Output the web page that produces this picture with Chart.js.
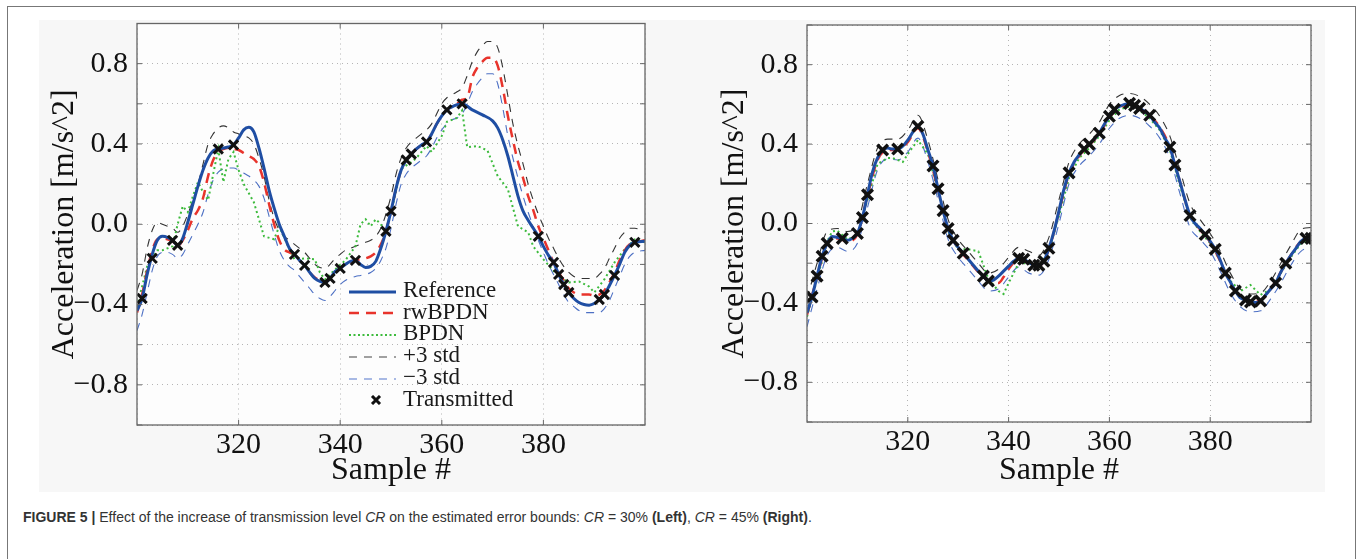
<!DOCTYPE html>
<html>
<head>
<meta charset="utf-8">
<script src="https://cdn.jsdelivr.net/npm/chart.js@4.4.0/dist/chart.umd.min.js"></script>
<style>
  body { margin: 0; width: 1360px; height: 559px; overflow: hidden; background: #fff; position: relative; }
  #frame { position: absolute; left: 7px; top: 6px; width: 1347px; height: 620px; border: 1.5px solid #777; }
  #backdrop { position: absolute; left: 39px; top: 20px; width: 1286px; height: 472px; background: #f7f7f7; }
  canvas { position: absolute; top: 14px; }
  #leftChart { left: 39px; }
  #rightChart { left: 709px; }
  #legend { position: absolute; left: 349px; top: 279px; font-family: "Liberation Serif", serif; font-size: 23px; line-height: 21.7px; color: #1a1a1a; }
  #legend div { white-space: nowrap; }
  #legend svg { vertical-align: middle; margin-right: 7px; }
  #caption { position: absolute; left: 23px; top: 509px; font-family: "Liberation Sans", Arial, sans-serif; font-size: 14px; color: #333; white-space: nowrap; }
</style>
</head>
<body>
<div id="frame"></div>
<div id="backdrop"></div>
<canvas id="leftChart" width="620" height="478"></canvas>
<canvas id="rightChart" width="616" height="478"></canvas>

<div id="legend">
  <div><svg width="47" height="10"><line x1="0" y1="5" x2="47" y2="5" stroke="#1f4ea3" stroke-width="3"/></svg>Reference</div>
  <div><svg width="47" height="10"><line x1="0" y1="5" x2="47" y2="5" stroke="#e8342c" stroke-width="2.5" stroke-dasharray="10 7"/></svg>rwBPDN</div>
  <div><svg width="47" height="10"><line x1="0" y1="5" x2="47" y2="5" stroke="#3dbb3d" stroke-width="2" stroke-dasharray="2 2.5"/></svg>BPDN</div>
  <div><svg width="47" height="10"><line x1="0" y1="5" x2="47" y2="5" stroke="#444" stroke-width="1.2" stroke-dasharray="8 7"/></svg>+3 std</div>
  <div><svg width="47" height="10"><line x1="0" y1="5" x2="47" y2="5" stroke="#5577cc" stroke-width="1.2" stroke-dasharray="8 7"/></svg>−3 std</div>
  <div><svg width="47" height="10"><path d="M23 1 L31 9 M31 1 L23 9" stroke="#111" stroke-width="3"/></svg>Transmitted</div>
</div>

<div id="caption"><b>FIGURE 5 |</b> Effect of the increase of transmission level <i>CR</i> on the estimated error bounds: <i>CR</i> = 30% <b>(Left)</b>, <i>CR</i> = 45% <b>(Right)</b>.</div>

<script>
// axis ticks
const xTickValues = [320, 340, 360, 380];
const yTickValues = [-0.8, -0.4, 0.0, 0.4, 0.8];
const yTickLabels = ['−0.8', '−0.4', '0.0', '0.4', '0.8'];

// ---- left panel (CR = 30%) ----
const leftTransX = [301, 303, 307, 308, 316, 319, 331, 333, 337, 338, 340, 343, 349, 350, 353, 354, 357, 361, 364, 379, 382, 383, 384, 385, 391, 392, 394, 398];
const leftTransY = [-0.37, -0.17, -0.08, -0.105, 0.375, 0.395, -0.15, -0.205, -0.29, -0.27, -0.22, -0.18, -0.035, 0.065, 0.32, 0.35, 0.41, 0.57, 0.60, -0.06, -0.19, -0.25, -0.30, -0.34, -0.375, -0.35, -0.255, -0.09];

const leftReference = [[300,-0.43],[301,-0.37],[302,-0.25],[303,-0.15],[304,-0.08],[305,-0.06],[306,-0.065],[307,-0.08],[308,-0.105],[309,-0.07],[310,0.01],[311,0.1],[312,0.19],[313,0.27],[314,0.33],[315,0.365],[316,0.375],[317,0.38],[318,0.385],[319,0.395],[320,0.43],[321,0.47],[322,0.483],[323,0.46],[324,0.38],[325,0.28],[326,0.17],[327,0.08],[328,0.0],[329,-0.06],[330,-0.12],[331,-0.15],[332,-0.18],[333,-0.205],[334,-0.24],[335,-0.27],[336,-0.285],[337,-0.29],[338,-0.27],[339,-0.235],[340,-0.22],[341,-0.2],[342,-0.185],[343,-0.18],[344,-0.2],[345,-0.215],[346,-0.21],[347,-0.185],[348,-0.12],[349,-0.035],[350,0.065],[351,0.18],[352,0.27],[353,0.32],[354,0.35],[355,0.375],[356,0.395],[357,0.41],[358,0.45],[359,0.5],[360,0.54],[361,0.57],[362,0.585],[363,0.595],[364,0.6],[366,0.57],[368,0.545],[370,0.515],[371,0.48],[372,0.42],[373,0.34],[374,0.24],[375,0.14],[376,0.065],[377,0.02],[378,-0.02],[379,-0.06],[380,-0.11],[381,-0.155],[382,-0.19],[383,-0.25],[384,-0.3],[385,-0.34],[386,-0.37],[387,-0.39],[388,-0.4],[389,-0.403],[390,-0.395],[391,-0.375],[392,-0.35],[393,-0.305],[394,-0.255],[395,-0.2],[396,-0.14],[397,-0.105],[398,-0.09],[400,-0.085]];

const leftRwBPDN = [[300,-0.44],[301,-0.35],[302,-0.23],[303,-0.13],[304,-0.075],[305,-0.07],[306,-0.075],[307,-0.085],[308,-0.11],[309,-0.08],[310,-0.03],[311,0.03],[312,0.07],[313,0.13],[314,0.24],[315,0.32],[316,0.36],[317,0.375],[318,0.38],[319,0.375],[320,0.37],[321,0.355],[322,0.34],[323,0.325],[324,0.29],[325,0.21],[326,0.1],[327,0.0],[328,-0.08],[329,-0.125],[330,-0.14],[331,-0.15],[332,-0.18],[333,-0.205],[334,-0.24],[335,-0.265],[336,-0.28],[337,-0.29],[338,-0.27],[339,-0.24],[340,-0.22],[341,-0.2],[342,-0.19],[343,-0.18],[344,-0.175],[345,-0.17],[346,-0.16],[347,-0.14],[348,-0.1],[349,-0.035],[350,0.065],[351,0.18],[352,0.27],[353,0.32],[354,0.35],[355,0.375],[356,0.395],[357,0.41],[358,0.45],[359,0.5],[360,0.54],[361,0.57],[362,0.585],[363,0.6],[364,0.62],[365,0.63],[366,0.73],[367,0.78],[368,0.81],[369,0.83],[370,0.83],[371,0.79],[372,0.68],[373,0.54],[374,0.42],[375,0.31],[376,0.23],[377,0.14],[378,0.07],[379,-0.01],[380,-0.07],[381,-0.13],[382,-0.19],[383,-0.24],[384,-0.28],[385,-0.32],[386,-0.34],[387,-0.35],[388,-0.35],[389,-0.35],[390,-0.355],[391,-0.35],[392,-0.33],[393,-0.29],[394,-0.24],[395,-0.18],[396,-0.13],[397,-0.1],[398,-0.09],[400,-0.08]];

const leftBPDN = [[300,-0.41],[302,-0.21],[304,-0.13],[305,-0.13],[307,-0.11],[308,0.0],[309,0.09],[310,0.06],[311,0.14],[312,0.21],[313,0.16],[314,0.12],[315,0.25],[316,0.375],[317,0.21],[318,0.325],[319,0.36],[320,0.27],[321,0.2],[323,0.11],[325,-0.06],[327,-0.075],[328,-0.01],[330,-0.125],[331,-0.175],[333,-0.17],[335,-0.175],[336,-0.24],[337,-0.275],[339,-0.225],[341,-0.18],[343,-0.11],[344,0.0],[345,0.025],[346,-0.01],[347,0.025],[348,0.0],[349,-0.04],[350,0.06],[352,0.275],[354,0.31],[355,0.33],[357,0.39],[358,0.36],[359,0.4],[360,0.44],[361,0.51],[363,0.53],[364,0.567],[365,0.383],[367,0.39],[369,0.367],[371,0.24],[373,0.175],[375,-0.01],[377,-0.04],[378,-0.11],[380,-0.175],[383,-0.26],[385,-0.29],[387,-0.285],[389,-0.31],[390,-0.34],[392,-0.275],[394,-0.19],[396,-0.125],[398,-0.075],[400,-0.09]];

const leftPlus3 = [[300,-0.33],[301,-0.25],[302,-0.12],[303,-0.03],[304,0.01],[305,0.0],[306,-0.01],[307,-0.02],[308,-0.04],[309,-0.01],[310,0.05],[311,0.12],[312,0.2],[313,0.3],[314,0.4],[315,0.45],[316,0.48],[317,0.49],[318,0.48],[319,0.46],[320,0.45],[321,0.44],[322,0.43],[323,0.4],[324,0.33],[325,0.24],[326,0.12],[327,0.03],[328,-0.03],[329,-0.06],[330,-0.08],[331,-0.1],[332,-0.12],[333,-0.14],[334,-0.17],[335,-0.2],[336,-0.215],[337,-0.22],[338,-0.2],[339,-0.17],[340,-0.15],[341,-0.13],[342,-0.12],[343,-0.11],[344,-0.1],[345,-0.09],[346,-0.08],[347,-0.06],[348,-0.02],[349,0.05],[350,0.14],[351,0.25],[352,0.33],[353,0.38],[354,0.41],[355,0.43],[356,0.45],[357,0.47],[358,0.5],[359,0.55],[360,0.6],[361,0.63],[362,0.645],[363,0.66],[364,0.68],[365,0.74],[366,0.81],[367,0.86],[368,0.89],[369,0.91],[370,0.91],[371,0.88],[372,0.78],[373,0.64],[374,0.5],[375,0.39],[376,0.3],[377,0.2],[378,0.12],[379,0.05],[380,-0.01],[381,-0.07],[382,-0.12],[383,-0.17],[384,-0.21],[385,-0.24],[386,-0.26],[387,-0.27],[388,-0.27],[389,-0.27],[390,-0.27],[391,-0.25],[392,-0.22],[393,-0.17],[394,-0.12],[395,-0.07],[396,-0.04],[397,-0.02],[398,-0.02],[400,-0.04]];

const leftMinus3 = [[300,-0.53],[301,-0.45],[302,-0.34],[303,-0.23],[304,-0.16],[305,-0.14],[306,-0.14],[307,-0.15],[308,-0.17],[309,-0.15],[310,-0.1],[311,-0.05],[312,0.0],[313,0.06],[314,0.15],[315,0.22],[316,0.26],[317,0.275],[318,0.28],[319,0.28],[320,0.27],[321,0.255],[322,0.24],[323,0.22],[324,0.19],[325,0.13],[326,0.04],[327,-0.05],[328,-0.13],[329,-0.18],[330,-0.21],[331,-0.23],[332,-0.26],[333,-0.29],[334,-0.32],[335,-0.35],[336,-0.37],[337,-0.38],[338,-0.36],[339,-0.33],[340,-0.3],[341,-0.28],[342,-0.27],[343,-0.26],[344,-0.255],[345,-0.25],[346,-0.24],[347,-0.22],[348,-0.18],[349,-0.12],[350,-0.02],[351,0.1],[352,0.2],[353,0.25],[354,0.28],[355,0.3],[356,0.32],[357,0.34],[358,0.38],[359,0.43],[360,0.47],[361,0.5],[362,0.52],[363,0.53],[364,0.55],[365,0.6],[366,0.66],[367,0.7],[368,0.73],[369,0.75],[370,0.75],[371,0.7],[372,0.58],[373,0.44],[374,0.33],[375,0.23],[376,0.14],[377,0.06],[378,-0.01],[379,-0.08],[380,-0.14],[381,-0.2],[382,-0.25],[383,-0.3],[384,-0.35],[385,-0.39],[386,-0.41],[387,-0.43],[388,-0.44],[389,-0.44],[390,-0.44],[391,-0.44],[392,-0.42],[393,-0.38],[394,-0.32],[395,-0.26],[396,-0.2],[397,-0.16],[398,-0.14],[400,-0.13]];

// ---- right panel (CR = 45%) ----
const rightTransX = [301, 302, 303, 304, 307, 310, 311, 312, 315, 318, 322, 325, 326, 327, 328, 329, 331, 335, 336, 342, 343, 345, 346, 347, 348, 352, 355, 356, 358, 360, 361, 364, 365, 366, 368, 372, 373, 376, 379, 381, 383, 385, 387, 388, 390, 393, 395, 399, 400];
const rightTransY = [-0.37, -0.265, -0.165, -0.10, -0.075, -0.05, 0.03, 0.145, 0.37, 0.375, 0.49, 0.29, 0.175, 0.065, -0.025, -0.085, -0.15, -0.265, -0.29, -0.175, -0.18, -0.21, -0.21, -0.19, -0.125, 0.255, 0.375, 0.4, 0.455, 0.54, 0.575, 0.605, 0.595, 0.58, 0.545, 0.385, 0.295, 0.04, -0.055, -0.13, -0.25, -0.34, -0.385, -0.395, -0.39, -0.3, -0.2, -0.075, -0.075];

const rightReference = [[300,-0.45],[301,-0.37],[302,-0.265],[303,-0.165],[304,-0.1],[305,-0.065],[306,-0.07],[307,-0.075],[308,-0.085],[309,-0.075],[310,-0.05],[311,0.03],[312,0.145],[313,0.26],[314,0.33],[315,0.37],[316,0.38],[317,0.375],[318,0.375],[319,0.39],[320,0.42],[321,0.46],[322,0.49],[323,0.45],[324,0.37],[325,0.29],[326,0.175],[327,0.065],[328,-0.025],[329,-0.085],[330,-0.12],[331,-0.15],[332,-0.18],[333,-0.21],[334,-0.24],[335,-0.265],[336,-0.29],[337,-0.285],[338,-0.265],[339,-0.24],[340,-0.215],[341,-0.19],[342,-0.175],[343,-0.18],[344,-0.195],[345,-0.21],[346,-0.21],[347,-0.19],[348,-0.125],[349,-0.04],[350,0.065],[351,0.175],[352,0.255],[353,0.31],[354,0.345],[355,0.375],[356,0.4],[357,0.425],[358,0.455],[359,0.5],[360,0.54],[361,0.575],[362,0.59],[363,0.6],[364,0.605],[365,0.595],[366,0.58],[367,0.565],[368,0.545],[369,0.51],[370,0.48],[371,0.43],[372,0.385],[373,0.295],[374,0.21],[375,0.12],[376,0.04],[377,0.0],[378,-0.025],[379,-0.055],[380,-0.09],[381,-0.13],[382,-0.185],[383,-0.25],[384,-0.295],[385,-0.34],[386,-0.375],[387,-0.385],[388,-0.395],[389,-0.398],[390,-0.39],[391,-0.36],[392,-0.33],[393,-0.3],[394,-0.245],[395,-0.2],[396,-0.16],[397,-0.125],[398,-0.09],[399,-0.075],[400,-0.075]];

const rightRwBPDN = [[300,-0.46],[302,-0.27],[304,-0.1],[306,-0.075],[308,-0.09],[310,-0.055],[312,0.14],[314,0.32],[316,0.37],[318,0.37],[320,0.41],[322,0.48],[324,0.36],[326,0.17],[328,-0.03],[330,-0.125],[332,-0.185],[334,-0.245],[336,-0.29],[338,-0.3],[339,-0.27],[340,-0.23],[342,-0.18],[344,-0.2],[346,-0.215],[348,-0.13],[350,0.06],[352,0.25],[354,0.34],[356,0.395],[358,0.45],[360,0.535],[362,0.585],[364,0.6],[366,0.58],[368,0.545],[370,0.485],[372,0.385],[374,0.21],[376,0.04],[378,-0.03],[380,-0.095],[382,-0.19],[384,-0.3],[386,-0.37],[388,-0.39],[390,-0.385],[392,-0.33],[394,-0.245],[396,-0.16],[398,-0.09],[400,-0.075]];

const rightBPDN = [[300,-0.47],[302,-0.28],[304,-0.09],[305,-0.04],[306,-0.035],[308,-0.08],[310,-0.06],[312,0.12],[314,0.3],[316,0.33],[317,0.33],[318,0.32],[319,0.31],[320,0.35],[322,0.42],[324,0.35],[326,0.16],[328,-0.04],[330,-0.13],[332,-0.13],[334,-0.14],[336,-0.28],[338,-0.34],[339,-0.355],[340,-0.3],[342,-0.2],[344,-0.2],[346,-0.22],[348,-0.14],[350,0.04],[352,0.23],[354,0.33],[356,0.38],[358,0.44],[360,0.52],[362,0.575],[364,0.59],[366,0.57],[368,0.53],[370,0.47],[372,0.37],[374,0.19],[376,0.03],[378,-0.04],[380,-0.1],[382,-0.19],[384,-0.29],[386,-0.34],[388,-0.31],[390,-0.36],[392,-0.33],[394,-0.25],[396,-0.17],[398,-0.1],[400,-0.085]];

const rightPlus3 = [[300,-0.38],[302,-0.2],[304,-0.04],[306,-0.025],[308,-0.04],[310,0.0],[312,0.2],[314,0.38],[316,0.425],[318,0.425],[320,0.47],[322,0.545],[324,0.42],[326,0.22],[328,0.02],[330,-0.08],[332,-0.14],[334,-0.2],[336,-0.25],[338,-0.23],[340,-0.17],[342,-0.12],[344,-0.14],[346,-0.16],[348,-0.07],[350,0.12],[352,0.31],[354,0.4],[356,0.45],[358,0.51],[360,0.6],[362,0.645],[364,0.655],[366,0.64],[368,0.6],[370,0.54],[372,0.44],[374,0.27],[376,0.1],[378,0.02],[380,-0.05],[382,-0.14],[384,-0.25],[386,-0.33],[388,-0.355],[390,-0.35],[392,-0.29],[394,-0.2],[396,-0.11],[398,-0.03],[400,-0.02]];

const rightMinus3 = [[300,-0.52],[302,-0.33],[304,-0.16],[306,-0.12],[308,-0.14],[310,-0.1],[312,0.08],[314,0.27],[316,0.325],[318,0.32],[320,0.36],[322,0.43],[324,0.31],[326,0.12],[328,-0.08],[330,-0.17],[332,-0.23],[334,-0.29],[336,-0.34],[338,-0.33],[340,-0.27],[342,-0.22],[344,-0.25],[346,-0.26],[348,-0.18],[350,0.0],[352,0.2],[354,0.29],[356,0.34],[358,0.4],[360,0.48],[362,0.53],[364,0.545],[366,0.53],[368,0.49],[370,0.43],[372,0.33],[374,0.15],[376,-0.02],[378,-0.08],[380,-0.14],[382,-0.24],[384,-0.35],[386,-0.42],[388,-0.445],[390,-0.44],[392,-0.38],[394,-0.3],[396,-0.21],[398,-0.14],[400,-0.12]];

// plot box: light fill, solid frame, short inward ticks (MATLAB look)
const framePlugin = {
    id: 'frame',
    beforeDraw(chart) {
        const { ctx, chartArea: a } = chart;
        ctx.save();
        ctx.fillStyle = '#fdfdfd';
        ctx.fillRect(a.left, a.top, a.width, a.height);
        ctx.restore();
    },
    afterDraw(chart) {
        const { ctx, chartArea: a, scales } = chart;
        ctx.save();
        ctx.strokeStyle = '#666';
        ctx.lineWidth = 1.3;
        ctx.strokeRect(a.left, a.top, a.width, a.height);
        ctx.lineWidth = 1;
        ctx.beginPath();
        xTickValues.forEach(v => {
            const px = scales.x.getPixelForValue(v);
            ctx.moveTo(px, a.bottom); ctx.lineTo(px, a.bottom - 5);
            ctx.moveTo(px, a.top); ctx.lineTo(px, a.top + 5);
        });
        scales.y.ticks.forEach(t => {
            const py = scales.y.getPixelForValue(t.value);
            ctx.moveTo(a.left, py); ctx.lineTo(a.left + 5, py);
            ctx.moveTo(a.right, py); ctx.lineTo(a.right - 5, py);
        });
        ctx.stroke();
        ctx.restore();
    }
};

function pairs(xs, ys) {
    return xs.map((x, i) => [x, ys[i]]);
}

function makePanel(id, s, opt) {
    const ctx = document.getElementById(id).getContext('2d');
    const serif = 'Liberation Serif';
    return new Chart(ctx, {
        type: 'line',
        data: {
            datasets: [
                { label: 'Transmitted', data: s.trans, showLine: false, pointStyle: 'crossRot',
                  pointRadius: opt.mark, pointBorderWidth: opt.markWidth, pointBorderColor: '#111', pointBackgroundColor: '#111' },
                { label: 'Reference', data: s.ref, borderColor: '#1f4ea3', borderWidth: 3, pointRadius: 0, cubicInterpolationMode: 'monotone' },
                { label: 'rwBPDN', data: s.rw, borderColor: '#e8342c', borderWidth: 2.5, borderDash: [10, 7], pointRadius: 0, cubicInterpolationMode: 'monotone' },
                { label: 'BPDN', data: s.bp, borderColor: '#3dbb3d', borderWidth: 2, borderDash: [2, 3], pointRadius: 0, tension: 0 },
                { label: '+3 std', data: s.up, borderColor: '#333', borderWidth: 1.1, borderDash: [8, 7], pointRadius: 0, cubicInterpolationMode: 'monotone' },
                { label: '−3 std', data: s.lo, borderColor: '#4d70c4', borderWidth: 1.1, borderDash: [8, 7], pointRadius: 0, cubicInterpolationMode: 'monotone' }
            ]
        },
        options: {
            responsive: false,
            animation: false,
            devicePixelRatio: 1,
            layout: { padding: { left: 0, right: opt.padRight, top: opt.padTop, bottom: 0 } },
            plugins: { legend: { display: false }, tooltip: { enabled: false } },
            scales: {
                x: {
                    type: 'linear', min: 300, max: 400,
                    ticks: {
                        stepSize: 20, padding: 2, autoSkip: false, maxRotation: 0, color: '#111',
                        font: { family: serif, size: 30 },
                        callback: v => xTickValues.includes(v) ? String(v) : ''
                    },
                    grid: { color: '#b5b5b5', lineWidth: 1, drawTicks: false },
                    border: { display: false, dash: [1, 4] },
                    title: { display: true, text: 'Sample #', color: '#111', font: { family: serif, size: 32 }, padding: { top: 0, bottom: 2 } },
                    afterFit: sc => { sc.height = opt.xAxisH; sc.paddingLeft = 0; sc.paddingRight = 0; }
                },
                y: {
                    min: -1, max: 1,
                    ticks: {
                        stepSize: 0.2, padding: 9, autoSkip: false, color: '#111',
                        font: { family: serif, size: 30 },
                        callback: v => {
                            const i = yTickValues.findIndex(t => Math.abs(t - v) < 1e-6);
                            return i >= 0 ? yTickLabels[i] : '';
                        }
                    },
                    grid: { color: '#b5b5b5', lineWidth: 1, drawTicks: false },
                    border: { display: false, dash: [1, 4] },
                    title: { display: true, text: 'Acceleration [m/s^2]', color: '#111', font: { family: serif, size: 32 }, padding: { top: 6, bottom: 0 } },
                    afterFit: sc => { sc.width = 98; sc.paddingTop = 0; sc.paddingBottom = 0; }
                }
            }
        },
        plugins: [framePlugin]
    });
}

makePanel('leftChart', {
    trans: pairs(leftTransX, leftTransY), ref: leftReference, rw: leftRwBPDN,
    bp: leftBPDN, up: leftPlus3, lo: leftMinus3
}, { mark: 6.5, markWidth: 3, padRight: 14, padTop: 4, xAxisH: 67 });

makePanel('rightChart', {
    trans: pairs(rightTransX, rightTransY), ref: rightReference, rw: rightRwBPDN,
    bp: rightBPDN, up: rightPlus3, lo: rightMinus3
}, { mark: 7.5, markWidth: 3.5, padRight: 14, padTop: 5, xAxisH: 70 });
</script>
</body>
</html>
